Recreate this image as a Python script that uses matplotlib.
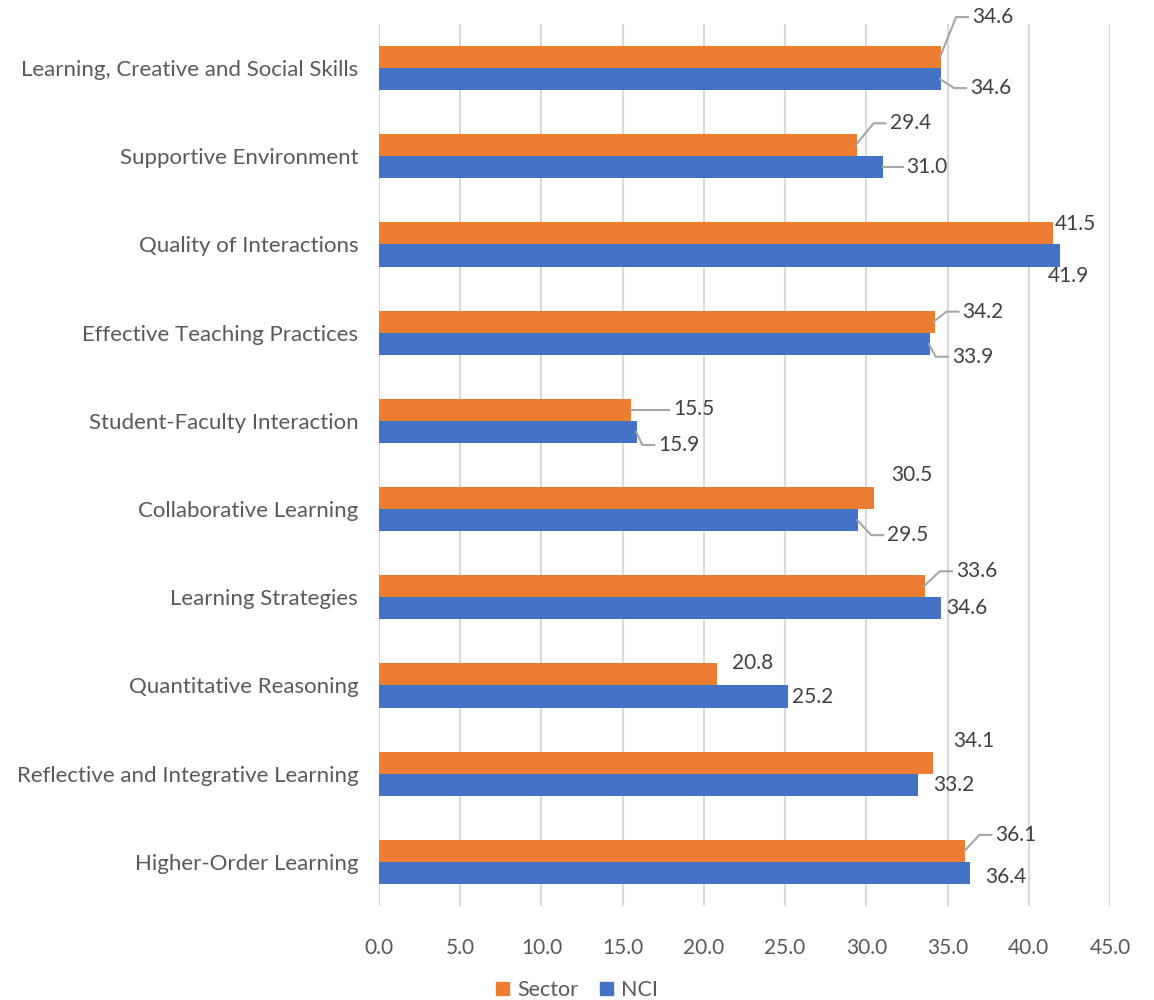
import numpy as np
import matplotlib
matplotlib.use("Agg")
import matplotlib.pyplot as plt
from matplotlib.patches import Patch

plt.rcParams["font.family"] = ["Lato", "DejaVu Sans"]

categories = [
    "Learning, Creative and Social Skills",
    "Supportive Environment",
    "Quality of Interactions",
    "Effective Teaching Practices",
    "Student-Faculty Interaction",
    "Collaborative Learning",
    "Learning Strategies",
    "Quantitative Reasoning",
    "Reflective and Integrative Learning",
    "Higher-Order Learning",
]
sector = [34.6, 29.4, 41.5, 34.2, 15.5, 30.5, 33.6, 20.8, 34.1, 36.1]
nci = [34.6, 31.0, 41.9, 33.9, 15.9, 29.5, 34.6, 25.2, 33.2, 36.4]

# label placement: (dx, dy) in pixels from bar end (dy positive = down), leader line flag
sector_offsets = [(31, -40, True), (33, -22, True), (2, -9, False), (28, -10, True),
                  (42, -1, True), (17, -23, False), (31, -15, True), (15, -11, False),
                  (20, -22, False), (30, -16, True)]
nci_offsets = [(29, 9, True), (24, 0, True), (-12, 20, False), (22, 13, True),
               (21, 13, True), (29, 15, True), (5, 0, False), (4, 0, False),
               (15, 0, False), (15, 4, False)]

ORANGE = "#ED7D31"
BLUE = "#4472C4"
GRID = "#D9D9D9"
TEXT = "#595959"
LABEL = "#404040"
LEADER = "#A6A6A6"

fig = plt.figure(figsize=(11.54, 10), dpi=100)
ax = fig.add_axes([379 / 1154, 0.094, (1110 - 379) / 1154, 0.882])

y = np.arange(len(categories))
h = 0.25
ax.barh(y - h / 2, sector, h, color=ORANGE, zorder=3)
ax.barh(y + h / 2, nci, h, color=BLUE, zorder=3)

ax.set_xlim(0, 45)
ax.set_ylim(len(categories) - 0.5, -0.5)
ax.set_xticks(np.arange(0, 46, 5))
ax.set_xticklabels([f"{t:.1f}" for t in np.arange(0, 46, 5)])
ax.set_yticks(y)
ax.set_yticklabels(categories)
ax.tick_params(axis="both", length=0, colors=TEXT)
ax.tick_params(axis="x", pad=23, labelsize=15)
ax.tick_params(axis="y", pad=15, labelsize=16)
ax.grid(axis="x", color=GRID, linewidth=1.5, zorder=0)
for s in ax.spines.values():
    s.set_visible(False)


def label(value, ypos, offs):
    dx, dy, leader = offs
    ax.annotate(f"{value:.1f}", xy=(value, ypos), xytext=(dx, -dy),
                textcoords="offset pixels", ha="left", va="center",
                fontsize=15, color=LABEL, zorder=5)
    if leader:
        px, py = ax.transData.transform((value, ypos))
        # display y grows upward; dy is given downward-positive
        tx, ty = px + dx - 4, py - dy
        ex = tx - 12
        if abs(dy) < 3:
            pts = [(px, py), (tx, py)]
        else:
            pts = [(px - 1, py), (ex, ty), (tx, ty)]
        data_pts = ax.transData.inverted().transform(pts)
        ax.plot(data_pts[:, 0], data_pts[:, 1], color=LEADER, linewidth=1.5,
                zorder=4, clip_on=False)


for i in range(len(categories)):
    label(sector[i], y[i] - h / 2, sector_offsets[i])
    label(nci[i], y[i] + h / 2, nci_offsets[i])

handles = [Patch(color=ORANGE, label="Sector"), Patch(color=BLUE, label="NCI")]
fig.legend(handles=handles, loc="center", bbox_to_anchor=(0.5, 0.01), ncol=2,
           frameon=False, fontsize=15.5, labelcolor=TEXT, handlelength=0.6,
           handleheight=0.6, handletextpad=0.4, columnspacing=1.0)

fig.savefig("out.png", dpi=100)
